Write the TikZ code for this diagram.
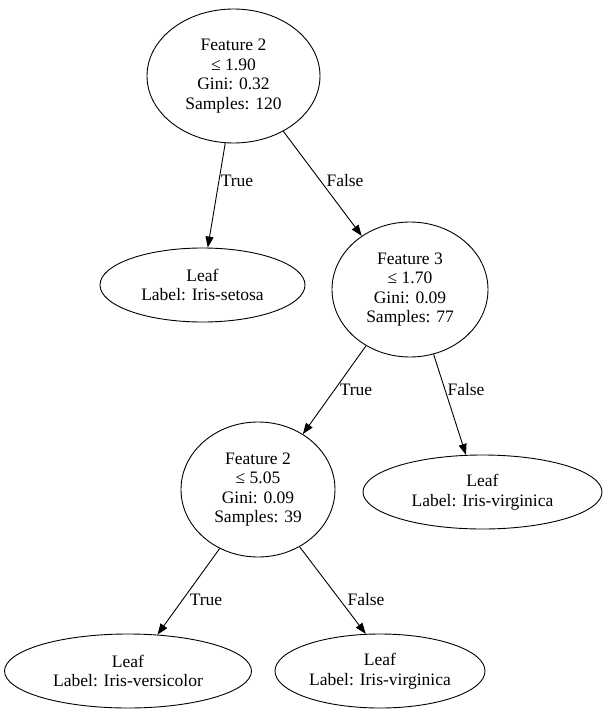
\documentclass[tikz,border=0pt]{standalone}
\usepackage{fontspec}
\setmainfont{Liberation Serif}
\usetikzlibrary{shapes.geometric,arrows.meta}
\begin{document}
\begin{tikzpicture}[x=1pt,y=-1pt,
  every node/.style={font=\fontsize{17.5}{19.5}\selectfont},
  tnode/.style={draw,ellipse,line width=0.9pt,inner sep=0pt,align=center},
  lbl/.style={inner sep=0pt},
  edge/.style={line width=0.9pt,-{Triangle[length=11pt,width=8pt]}}]
\useasboundingbox (0,0) rectangle (604,717);
\node[tnode,minimum width=173pt,minimum height=134pt] (r) at (233.5,76) {Feature 2\\≤ 1.90\\Gini: 0.32\\Samples: 120};
\node[tnode,minimum width=205pt,minimum height=74pt] (s) at (202.5,285) {Leaf\\Label: Iris-setosa};
\node[tnode,minimum width=156pt,minimum height=135pt] (f3) at (410,289.5) {Feature 3\\≤ 1.70\\Gini: 0.09\\Samples: 77};
\node[tnode,minimum width=154pt,minimum height=135pt] (f2) at (258,489.5) {Feature 2\\≤ 5.05\\Gini: 0.09\\Samples: 39};
\node[tnode,minimum width=239pt,minimum height=74pt] (v1) at (482.5,492) {Leaf\\Label: Iris-virginica};
\node[tnode,minimum width=247pt,minimum height=74pt] (vc) at (128,671) {Leaf\\Label: Iris-versicolor};
\node[tnode,minimum width=210pt,minimum height=74pt] (v2) at (380,671) {Leaf\\Label: Iris-virginica};
\draw[edge] (r.-97) -- (s.82);
\draw[edge] (r.-48) -- (f3.132.5);
\draw[edge] (f3.-128) -- (f2.51.5);
\draw[edge] (f3.-70) -- (v1.114);
\draw[edge] (f2.-123) -- (vc.51);
\draw[edge] (f2.-54) -- (v2.111.5);
\node[lbl] (l1) at (237,181) {True};
\node[lbl] (l2) at (345,181) {False};
\node[lbl] (l3) at (356,390) {True};
\node[lbl] (l4) at (466,390) {False};
\node[lbl] (l5) at (206,600) {True};
\node[lbl] (l6) at (366,600) {False};
\end{tikzpicture}
\end{document}
